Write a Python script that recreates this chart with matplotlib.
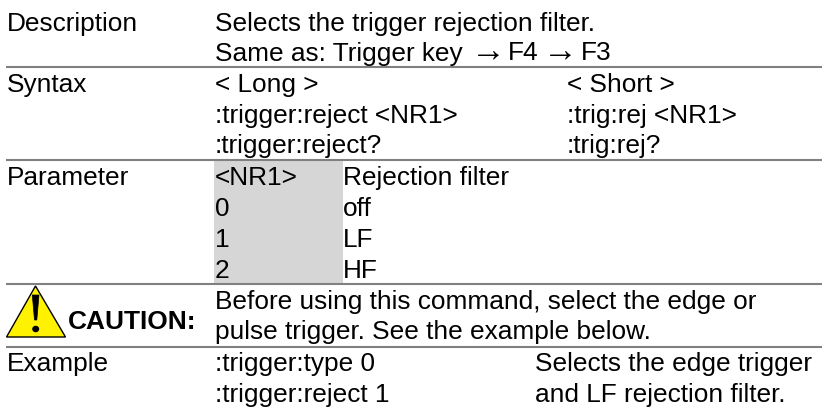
import matplotlib
matplotlib.use("Agg")
import matplotlib.pyplot as plt
from matplotlib.patches import Polygon, Rectangle, Ellipse

plt.rcParams['font.family'] = ['Liberation Sans', 'DejaVu Sans']

# (x, baseline y, text)
body_text = [
    (7, 30.7, "Description"),
    (215, 30.7, "Selects the trigger rejection filter."),
    (215, 60.5, "Same as: Trigger key"),
    (508, 60.5, "F4"),
    (581, 60.5, "F3"),
    (7, 92, "Syntax"),
    (215, 92, "< Long >"),
    (567, 92, "< Short >"),
    (215, 122.5, ":trigger:reject <NR1>"),
    (567, 122.5, ":trig:rej <NR1>"),
    (215, 153, ":trigger:reject?"),
    (567, 153, ":trig:rej?"),
    (7, 185, "Parameter"),
    (215, 185, "<NR1>"),
    (343, 185, "Rejection filter"),
    (215, 216, "0"),
    (343, 216, "off"),
    (215, 247, "1"),
    (343, 247, "LF"),
    (215, 277.5, "2"),
    (343, 277.5, "HF"),
    (215, 309, "Before using this command, select the edge or"),
    (215, 339.5, "pulse trigger. See the example below."),
    (7, 371, "Example"),
    (215, 371, ":trigger:type 0"),
    (535, 371, "Selects the edge trigger"),
    (215, 402, ":trigger:reject 1"),
    (535, 402, "and LF rejection filter."),
]
arrow_text = [(470.5, 62, "→"), (543, 62, "→")]
caution_label = "CAUTION:"
rule_rows = [66.5, 160, 284, 347]

W, H = 822, 408
fig = plt.figure(figsize=(W / 100, H / 100), dpi=100)
ax = fig.add_axes([0, 0, 1, 1])
ax.set_xlim(0, W)
ax.set_ylim(H, 0)
ax.axis("off")

ax.add_patch(Rectangle((214, 160), 129, 124, fc="#d6d6d6", ec="none", zorder=1))
for y in rule_rows:
    ax.plot([6, W], [y, y], color="#808080", lw=1.5, zorder=2, solid_capstyle="butt")

for x, y, s in body_text:
    ax.text(x, y, s, fontsize=18.95, color="black", va="baseline", ha="left", zorder=3)
for x, y, s in arrow_text:
    ax.text(x, y, s, fontsize=25, color="black", va="baseline", ha="left", zorder=3)

ax.text(67.5, 329, caution_label, fontsize=18.9, fontweight="bold", color="black",
        va="baseline", ha="left", zorder=3)

ax.add_patch(Polygon([(35.5, 286), (6.5, 337), (65.5, 337)], closed=True,
                     fc="#fff200", ec="black", lw=1.0, joinstyle="miter", zorder=3))
ax.add_patch(Polygon([(32.3, 295), (39, 295), (36.8, 320), (34.5, 320)], closed=True,
                     fc="black", ec="black", lw=0.5, zorder=4))
ax.add_patch(Ellipse((35.7, 329), 7, 6.5, fc="black", ec="none", zorder=4))

fig.savefig("out.png", dpi=100, facecolor="white")
